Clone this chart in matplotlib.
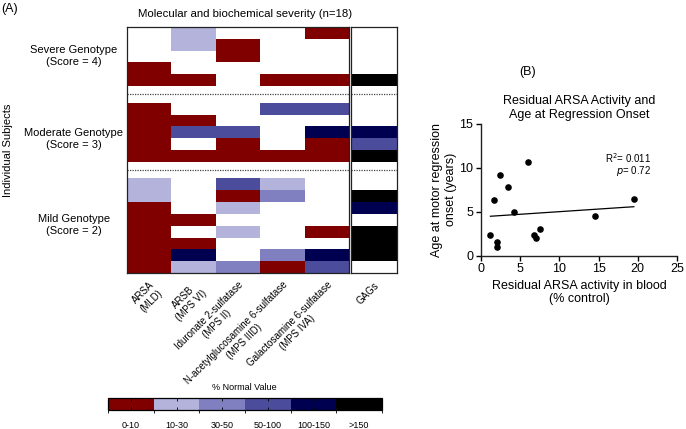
import numpy as np
import matplotlib.pyplot as plt
from matplotlib.colors import ListedColormap, BoundaryNorm
from matplotlib.cm import ScalarMappable
import matplotlib.transforms as mtransforms

plt.rcParams["font.family"] = ["Liberation Sans", "DejaVu Sans"]

n = np.nan

# column labels
enzymes = ["ARSA\n(MLD)", "ARSB\n(MPS VI)", "Iduronate 2-sulfatase\n(MPS II)",
           "N-acetylglucosamine 6-sulfatase\n(MPS IIID)",
           "Galactosamine 6-sulfatase\n(MPS IVA)"]
gag_label = ["GAGs"]
groups = ["Severe Genotype\n(Score = 4)", "Moderate Genotype\n(Score = 3)",
          "Mild Genotype\n(Score = 2)"]

# class per cell: 0 = 0-10, 1 = 10-30, 2 = 30-50, 3 = 50-100, 4 = 100-150, 5 = >150, nan = blank
severe_enz = [[n, 1, n, n, 0],
              [n, 1, 0, n, n],
              [n, n, 0, n, n],
              [0, n, n, n, n],
              [0, 0, n, 0, 0]]
severe_gag = [n, n, n, n, 5]

moderate_enz = [[0, n, n, 3, 3],
                [0, 0, n, n, n],
                [0, 3, 3, n, 4],
                [0, n, 0, n, 0],
                [0, 0, 0, 0, 0]]
moderate_gag = [n, n, 4, 3, 5]

mild_enz = [[1, n, 3, 1, n],
            [1, n, 0, 2, n],
            [0, n, 1, n, n],
            [0, 0, n, n, n],
            [0, n, 1, n, 0],
            [0, 0, n, n, n],
            [0, 4, n, 2, 4],
            [0, 1, 2, 0, 3]]
mild_gag = [n, 5, 4, n, 5, 5, 5, n]

bins = ["0-10", "10-30", "30-50", "50-100", "100-150", ">150"]
bin_colors = ["#800000", "#b3b3dc", "#8080c0", "#4c4c9c", "#000050", "#000000"]

# panel B data
arsa_activity = [1.2, 1.6, 2.1, 2.1, 2.4, 3.4, 4.2, 6.0, 6.8, 7.0, 7.5, 14.6, 19.5]
onset_age = [2.3, 6.3, 1.5, 1.0, 9.1, 7.8, 5.0, 10.6, 2.4, 2.0, 3.0, 4.5, 6.4]

W, H = 686, 429
fig = plt.figure(figsize=(W / 100, H / 100), dpi=100)


def px_axes(x0, y0, x1, y1):
    # axes from pixel box (top-left origin)
    return fig.add_axes([x0 / W, 1 - y1 / H, (x1 - x0) / W, (y1 - y0) / H])


cmap = ListedColormap(bin_colors)
norm = BoundaryNorm(np.arange(7), cmap.N)

ax = px_axes(127, 27, 349, 273)
axg = px_axes(351, 27, 397, 273)

gap = 1.4
enz_sets = [severe_enz, moderate_enz, mild_enz]
gag_sets = [severe_gag, moderate_gag, mild_gag]
offsets = []
y0 = 0
for i in range(3):
    offsets.append(y0)
    y0 += len(enz_sets[i]) + gap
total = y0 - gap

for off, enz, gag in zip(offsets, enz_sets, gag_sets):
    enz = np.ma.masked_invalid(np.array(enz, dtype=float))
    gag = np.ma.masked_invalid(np.array(gag, dtype=float)[:, None])
    yedges = off + np.arange(enz.shape[0] + 1)
    ax.pcolormesh(np.arange(6), yedges, enz, cmap=cmap, norm=norm)
    axg.pcolormesh([0, 1], yedges, gag, cmap=cmap, norm=norm)

# dotted separators between groups
for off in offsets[1:]:
    for a in (ax, axg):
        a.axhline(off - gap / 2, color="#444444", lw=0.9, ls=(0, (1, 1)))

for a in (ax, axg):
    a.set_ylim(total, 0)
    a.set_yticks([])
    a.tick_params(axis="x", length=0, pad=5)
    for s in a.spines.values():
        s.set_linewidth(0.9)
        s.set_color("#222222")

ax.set_xlim(0, 5)
axg.set_xlim(0, 1)
ax.set_xticks(np.arange(5) + 0.5)
ax.set_xticklabels(enzymes, rotation=45, ha="right", rotation_mode="anchor",
                   multialignment="center", fontsize=7)
axg.set_xticks([0.5])
axg.set_xticklabels(gag_label, rotation=45, ha="right", rotation_mode="anchor",
                    fontsize=7)

# group labels on the left
trans = mtransforms.blended_transform_factory(fig.transFigure, ax.transData)
label_y = [offsets[0] + 2.45, offsets[1] + 3.1, offsets[2] + 3.9]
for g, yy in zip(groups, label_y):
    ax.text(74 / W, yy, g, transform=trans, ha="center", va="center",
            fontsize=8, linespacing=1.25)

fig.text(8 / W, 1 - 150 / H, "Individual Subjects", rotation=90,
         ha="center", va="center", fontsize=8)
fig.text(245 / W, 1 - 14 / H, "Molecular and biochemical severity (n=18)",
         ha="center", va="center", fontsize=8.2)
fig.text(10 / W, 1 - 9 / H, "(A)", ha="center", va="center", fontsize=9)

# colour key
cax = px_axes(108, 398, 382, 410)
cb = fig.colorbar(ScalarMappable(norm=norm, cmap=cmap), cax=cax,
                  orientation="horizontal", ticks=np.arange(6) + 0.5)
cb.set_ticklabels(bins)
cb.outline.set_linewidth(0.9)
cax.tick_params(direction="in", length=2, width=0.6, top=True, bottom=True,
                labelsize=6.5, pad=8)
fig.text(244 / W, 1 - 388 / H, "% Normal Value", ha="center", va="center",
         fontsize=6.5)

# panel B scatter
bx = px_axes(481, 123.5, 677, 255.7)
bx.scatter(arsa_activity, onset_age, s=14, color="black", zorder=3, clip_on=False)
slope, icpt = np.polyfit(arsa_activity, onset_age, 1)
xs = np.array([min(arsa_activity), max(arsa_activity)])
bx.plot(xs, slope * xs + icpt, color="black", lw=0.9)
bx.set_xlim(0, 25)
bx.set_ylim(0, 15)
bx.set_xticks([0, 5, 10, 15, 20, 25])
bx.set_yticks([0, 5, 10, 15])
bx.spines["top"].set_visible(False)
bx.spines["right"].set_visible(False)
for s in ("left", "bottom"):
    bx.spines[s].set_linewidth(1.0)
    bx.spines[s].set_color("#222222")
bx.tick_params(length=3.5, width=1.0, labelsize=9, pad=2)
bx.set_title("Residual ARSA Activity and\nAge at Regression Onset",
             fontsize=9, pad=4)
bx.set_xlabel("Residual ARSA activity in blood\n(% control)", fontsize=9,
              labelpad=3)
bx.set_ylabel("Age at motor regression\nonset (years)", fontsize=9, labelpad=2)
bx.text(18.75, 11.1, "R$^2$= 0.011", ha="center", va="center", fontsize=7)
bx.text(19.5, 9.6, "$p$= 0.72", ha="center", va="center", fontsize=7)
fig.text(528 / W, 1 - 72 / H, "(B)", ha="center", va="center", fontsize=9)

fig.savefig("out.png", dpi=100)
